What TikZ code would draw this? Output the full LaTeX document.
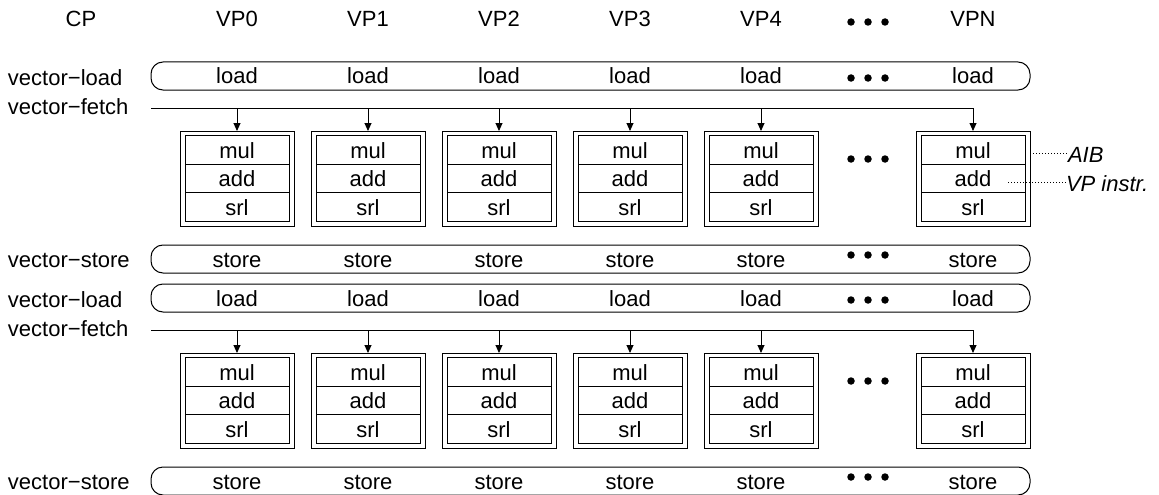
\documentclass[tikz,border=0pt]{standalone}
\usepackage{fontspec}
\setmainfont{Liberation Sans}
\usetikzlibrary{arrows.meta}
\begin{document}
\begin{tikzpicture}[x=1pt,y=-1pt,
  every node/.style={font=\fontsize{22}{26}\selectfont, inner sep=0pt, outer sep=0pt,
                     text height=16pt, text depth=0pt},
  rowlabel/.style={anchor=west},
  lane/.style={draw, line width=1pt, rounded corners=12pt,
               minimum width=879pt, minimum height=28pt},
  vpbox/.style={draw, line width=0.9pt, minimum width=114pt, minimum height=95pt},
  cell/.style={draw, line width=0.9pt, minimum width=104pt, minimum height=28.5pt},
  feed/.style={line width=0.9pt, -{Triangle[length=8pt,width=7pt]}},
  ellip/.style={fill, circle, minimum size=7.5pt, text height=, inner sep=0pt},
  leader/.style={line width=0.8pt, dash pattern=on 1pt off 2pt},
  tag/.style={anchor=west, font=\fontsize{22}{26}\selectfont\itshape}]
\useasboundingbox (0,0) rectangle (1159,495);

% column headers
\node (hcp) at (81,19) {CP};
\foreach \i/\x in {0/237,1/368,2/499,3/630,4/761}
  \node (h\i) at (\x,19) {VP\i};
\node (hN) at (973,19) {VPN};
\foreach \k/\dx in {a/-17,b/0,c/17}
  \node[ellip] (hd\k) at (868+\dx,22) {};

% two identical instruction blocks, the second one shifted down
\foreach \b/\dy in {1/0,2/222}{
  % vector-load
  \node[rowlabel] (lbl\b) at (8,77+\dy) {vector\char"2212 load};
  \node[lane] (ld\b) at (590.5,76+\dy) {};
  % vector-fetch
  \node[rowlabel] (lbf\b) at (8,106+\dy) {vector\char"2212 fetch};
  \coordinate (fs\b) at (151,108+\dy);
  % vector-store
  \node[rowlabel] (lbs\b) at (8,259+\dy) {vector\char"2212 store};
  \node[lane] (st\b) at (590.5,259+\dy) {};

  \foreach \i/\x in {0/237,1/368,2/499,3/630,4/761,N/973}{
    \node (ldt\b\i) at (\x,76+\dy) {load};
    \node (stt\b\i) at (\x,259+\dy) {store};
    \node[vpbox] (box\b\i) at (\x,178.5+\dy) {};
    \node[cell] (mul\b\i) at (\x,150+\dy) {mul};
    \node[cell] (add\b\i) at (\x,178.5+\dy) {add};
    \node[cell] (srl\b\i) at (\x,207+\dy) {srl};
  }
  % fetch line with a feed into every VP
  \coordinate (fc\b) at (box\b N.north |- fs\b);
  \draw[feed] (fs\b) -- (fc\b) -- (box\b N.north);
  \foreach \i in {0,1,2,3,4}
    \draw[feed] (box\b\i.north |- fs\b) -- (box\b\i.north);

  % ellipses between VP4 and VPN
  \foreach \k/\dx in {a/-17,b/0,c/17}{
    \node[ellip] (lde\b\k) at (868+\dx,78+\dy) {};
    \node[ellip] (bxe\b\k) at (868+\dx,159+\dy) {};
    \node[ellip] (ste\b\k) at (868+\dx,255+\dy) {};
  }
}

% annotations
\node[tag] (aib) at (1068,154) {AIB};
\node[tag] (vpi) at (1066,183) {VP instr.};
\coordinate (vpiend) at (1008,182);
\draw[leader] (box1N.east |- 0,153) -- (aib.west |- 0,153);
\draw[leader] (vpiend) -- (vpi.west |- vpiend);
\end{tikzpicture}
\end{document}
